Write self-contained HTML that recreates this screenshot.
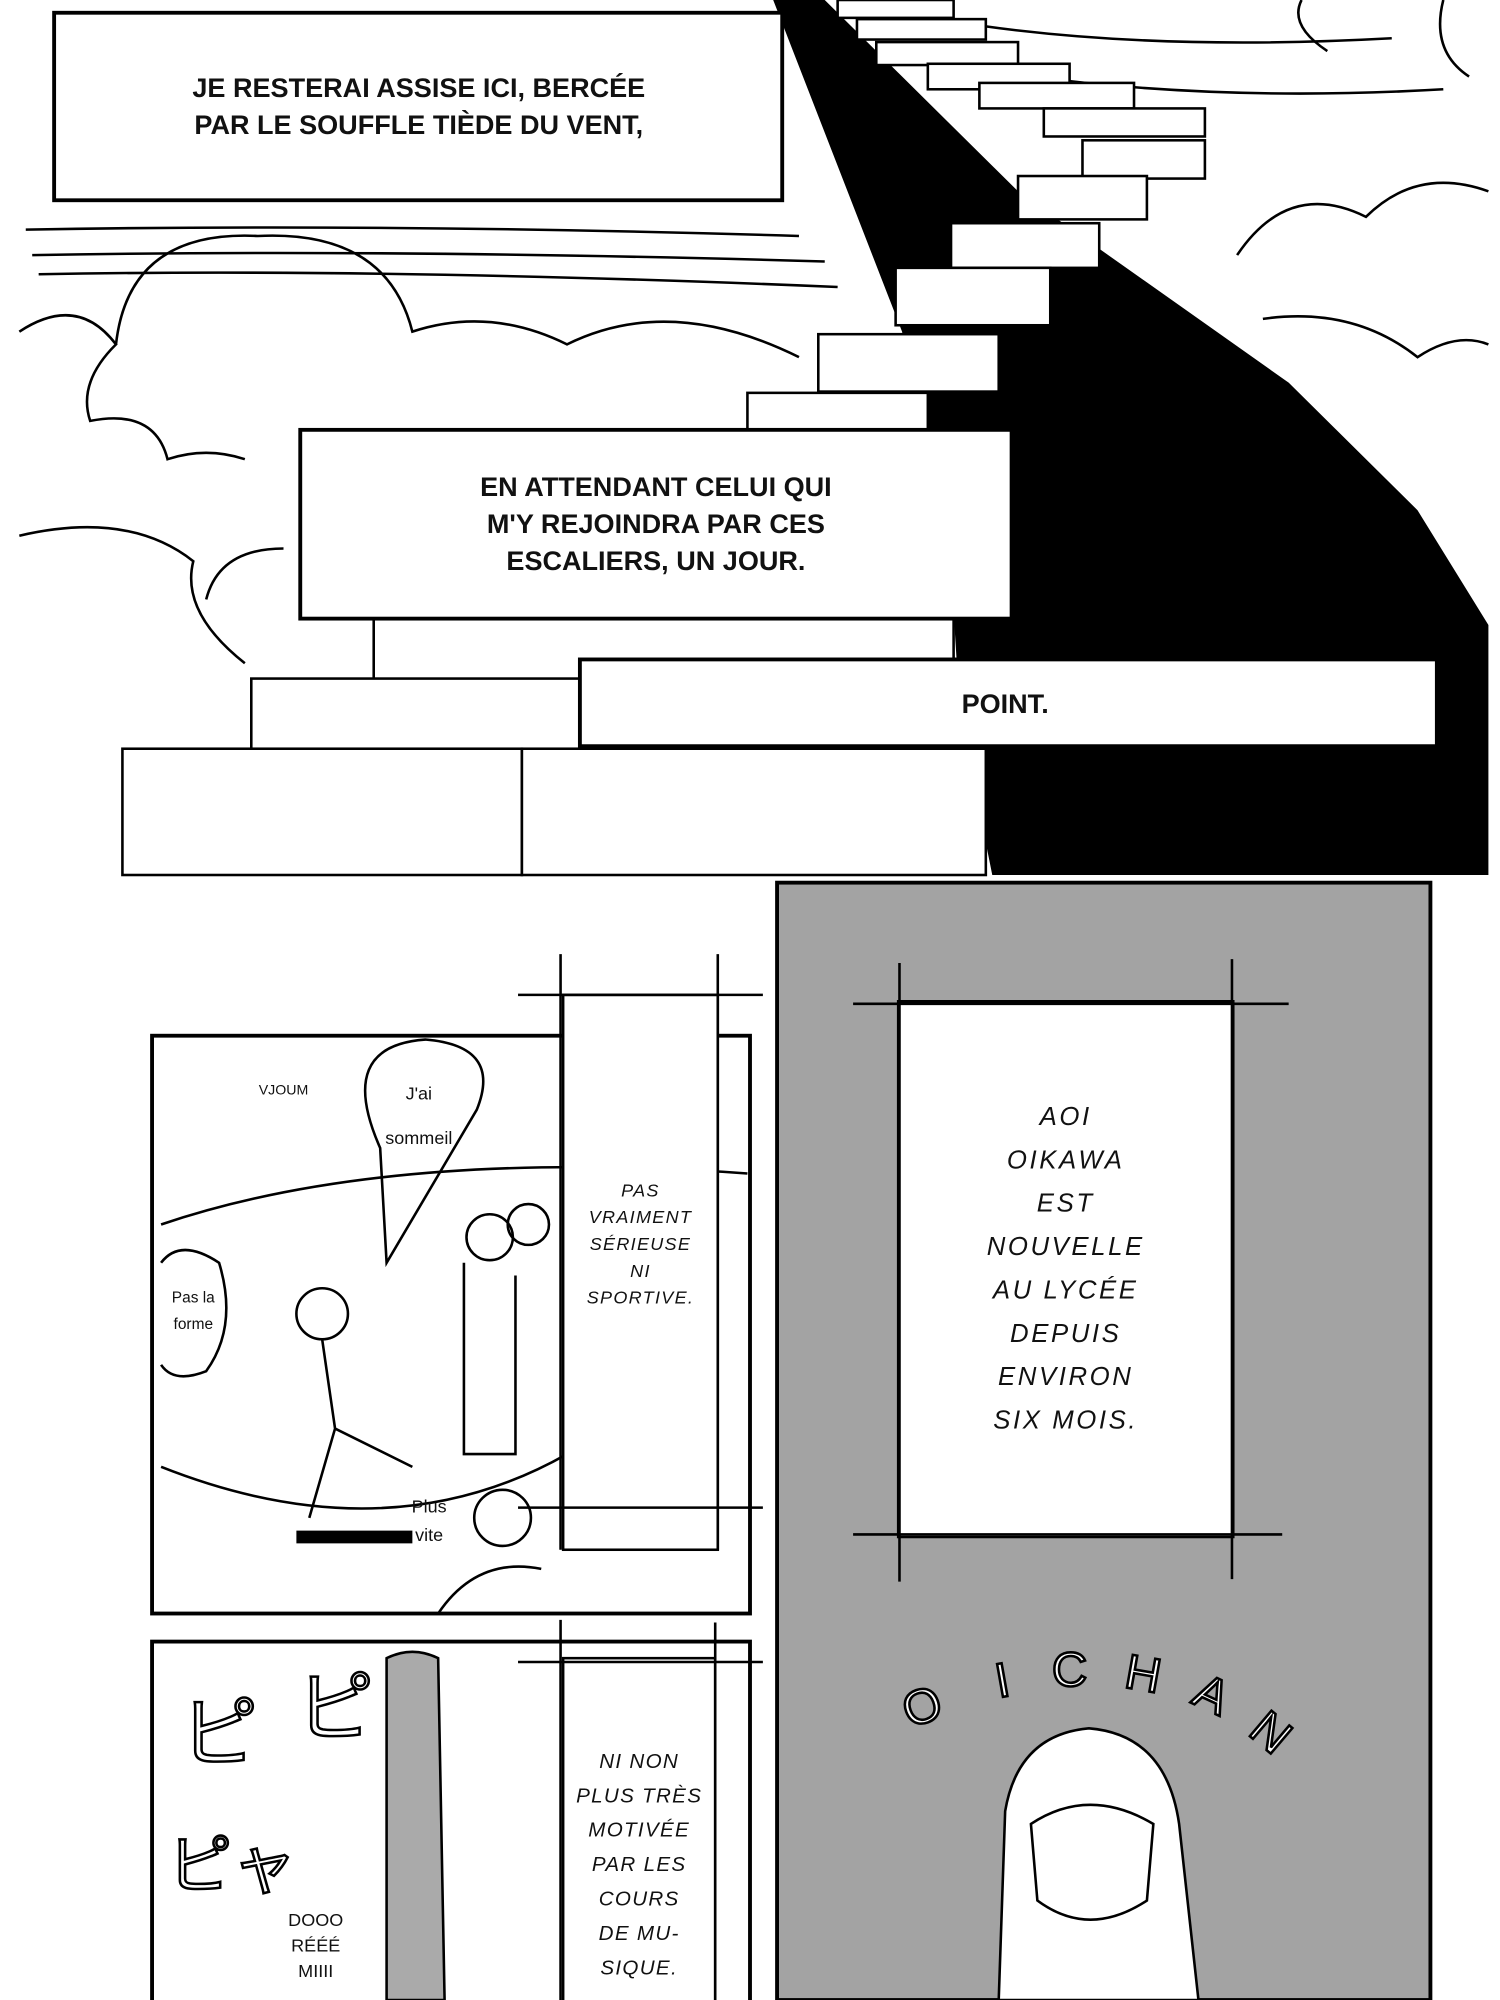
<!DOCTYPE html>
<html><head><meta charset="utf-8"><style>
html,body{margin:0;padding:0;background:#fff;}
svg{display:block;}
text{font-family:"Liberation Sans","Noto Sans CJK JP",sans-serif;}
</style></head><body>
<svg width="1500" height="2000" viewBox="0 0 1164 1568" preserveAspectRatio="none" xmlns="http://www.w3.org/2000/svg">
<rect width="1164" height="1568" fill="#fff"/>
<!-- top panel -->
<rect x="10" y="0" width="1145" height="686" fill="#fff"/>
<g fill="none" stroke="#000" stroke-width="2">
<path d="M20 180 Q300 175 620 185 M25 200 Q300 195 640 205 M30 215 Q300 210 650 225"/>
<path d="M90 270 Q100 180 200 185 Q300 180 320 260 Q380 240 440 270 Q520 230 620 280"/>
<path d="M15 260 Q60 230 90 270 Q60 300 70 330 Q120 320 130 360 Q160 350 190 360"/>
<path d="M160 470 Q170 430 220 430 M15 420 Q100 400 150 440 Q140 480 190 520"/>
<path d="M960 200 Q1000 140 1060 170 Q1100 130 1155 150 M980 250 Q1050 240 1100 280 Q1130 260 1155 270"/>
<path d="M1120 0 Q1110 40 1140 60 M1010 0 Q1000 20 1030 40"/>
<path d="M760 20 Q900 40 1080 30 M800 60 Q950 80 1120 70"/>
</g>
<polygon points="600,0 640,0 700,60 790,150 860,200 1000,300 1100,400 1155,490 1155,686 770,686 745,560 740,480 700,260" fill="#000"/>
<g fill="#fff" stroke="#000" stroke-width="2">
<rect x="650" y="0" width="90" height="14"/><rect x="665" y="15" width="100" height="16"/>
<rect x="680" y="33" width="110" height="18"/><rect x="720" y="50" width="110" height="20"/>
<rect x="760" y="65" width="120" height="20"/><rect x="810" y="85" width="125" height="22"/>
<rect x="840" y="110" width="95" height="30"/><rect x="790" y="138" width="100" height="34"/>
<rect x="738" y="175" width="115" height="35"/><rect x="695" y="210" width="120" height="45"/>
<rect x="635" y="262" width="140" height="45"/><rect x="580" y="308" width="140" height="40"/>
<rect x="290" y="485" width="450" height="50"/><rect x="195" y="532" width="300" height="75"/>
<rect x="95" y="587" width="310" height="99"/><rect x="405" y="587" width="360" height="99"/>
</g>
<rect x="42" y="10" width="565" height="147" fill="#fff" stroke="#000" stroke-width="3"/>
<rect x="233" y="337" width="552" height="148" fill="#fff" stroke="#000" stroke-width="3"/>
<rect x="450" y="517" width="665" height="68" fill="#fff" stroke="#000" stroke-width="3"/>
<g font-size="21" font-weight="bold" text-anchor="middle" fill="#111">
<text x="325" y="76">JE RESTERAI ASSISE ICI, BERCÉE</text>
<text x="325" y="105">PAR LE SOUFFLE TIÈDE DU VENT,</text>
<text x="509" y="389">EN ATTENDANT CELUI QUI</text>
<text x="509" y="418">M'Y REJOINDRA PAR CES</text>
<text x="509" y="447">ESCALIERS, UN JOUR.</text>
<text x="780" y="559">POINT.</text>
</g>
<!-- bottom right gray -->
<rect x="603" y="692" width="507" height="876" fill="#a3a3a3" stroke="#000" stroke-width="3"/>
<rect x="697" y="785" width="260" height="420" fill="#fff" stroke="#000" stroke-width="2"/>
<g stroke="#000" stroke-width="2"><line x1="662" y1="787" x2="1000" y2="787"/><line x1="662" y1="1203" x2="995" y2="1203"/>
<line x1="698" y1="755" x2="698" y2="1240"/><line x1="956" y1="752" x2="956" y2="1238"/></g>
<g font-size="20" font-style="italic" text-anchor="middle" fill="#111" letter-spacing="2">
<text x="827" y="882">AOI</text><text x="827" y="916">OIKAWA</text><text x="827" y="950">EST</text>
<text x="827" y="984">NOUVELLE</text><text x="827" y="1018">AU LYCÉE</text><text x="827" y="1052">DEPUIS</text>
<text x="827" y="1086">ENVIRON</text><text x="827" y="1120">SIX MOIS.</text>
</g>
<g font-size="38" fill="#fff" stroke="#000" stroke-width="2" text-anchor="middle">
<text x="720" y="1350" transform="rotate(-20 720 1350)">O</text>
<text x="780" y="1330" transform="rotate(-10 780 1330)">I</text>
<text x="830" y="1322">C</text>
<text x="885" y="1325" transform="rotate(10 885 1325)">H</text>
<text x="935" y="1340" transform="rotate(25 935 1340)">A</text>
<text x="978" y="1368" transform="rotate(40 978 1368)">N</text>
</g>
<path d="M775 1568 L780 1420 Q790 1360 845 1355 Q905 1360 915 1430 L930 1568 Z" fill="#fff" stroke="#000" stroke-width="2"/>
<path d="M800 1430 Q845 1400 895 1430 L890 1490 Q845 1520 805 1490 Z" fill="#fff" stroke="#000" stroke-width="2"/>
<!-- left panel 1 -->
<rect x="118" y="812" width="464" height="453" fill="#fff" stroke="#000" stroke-width="3"/>
<g fill="none" stroke="#000" stroke-width="2">
<path d="M125 960 Q300 900 580 920 M125 1150 Q300 1220 440 1140"/>
<path d="M295 900 Q260 820 330 815 Q390 820 370 870 L300 990 Z"/>
<path d="M125 990 Q140 970 170 990 Q185 1040 160 1075 Q135 1085 125 1070"/>
<circle cx="250" cy="1030" r="20"/><circle cx="380" cy="970" r="18"/><circle cx="410" cy="960" r="16"/>
<path d="M250 1050 L260 1120 L240 1190 M260 1120 L320 1150"/>
<circle cx="390" cy="1190" r="22"/><path d="M340 1265 Q370 1220 420 1230"/>
<path d="M360 990 L360 1140 L400 1140 L400 1000"/>
</g>
<rect x="230" y="1200" width="90" height="10" fill="#000"/>
<g font-size="14" fill="#111" text-anchor="middle"><text x="325" y="862">J'ai</text><text x="325" y="897">sommeil</text>
<text x="150" y="1021" font-size="12">Pas la</text><text x="150" y="1042" font-size="12">forme</text>
<text x="333" y="1186">Plus</text><text x="333" y="1208">vite</text><text x="220" y="858" font-size="11">VJOUM</text></g>
<rect x="437" y="780" width="120" height="435" fill="#fff" stroke="#000" stroke-width="2"/>
<g stroke="#000" stroke-width="2"><line x1="402" y1="780" x2="592" y2="780"/><line x1="402" y1="1182" x2="592" y2="1182"/>
<line x1="435" y1="748" x2="435" y2="1215"/><line x1="557" y1="748" x2="557" y2="1215"/></g>
<g font-size="14" font-style="italic" text-anchor="middle" fill="#111" letter-spacing="1">
<text x="497" y="938">PAS</text><text x="497" y="959">VRAIMENT</text><text x="497" y="980">SÉRIEUSE</text>
<text x="497" y="1001">NI</text><text x="497" y="1022">SPORTIVE.</text></g>
<!-- left panel 2 -->
<rect x="118" y="1287" width="464" height="290" fill="#fff" stroke="#000" stroke-width="3"/>
<path d="M300 1568 L300 1300 Q320 1290 340 1300 L345 1568 Z" fill="#aaa" stroke="#000" stroke-width="2"/>
<g font-size="60" fill="#fff" stroke="#000" stroke-width="2"><text x="140" y="1380">ピ</text><text x="230" y="1360">ピ</text>
<text x="130" y="1480" font-size="50">ピャ</text></g>
<g font-size="14" fill="#111" text-anchor="middle"><text x="245" y="1510">DOOO</text><text x="245" y="1530">RÉÉÉ</text><text x="245" y="1550">MIIII</text></g>
<rect x="437" y="1300" width="118" height="278" fill="#fff" stroke="#000" stroke-width="2"/>
<g stroke="#000" stroke-width="2"><line x1="402" y1="1303" x2="592" y2="1303"/>
<line x1="435" y1="1270" x2="435" y2="1568"/><line x1="555" y1="1272" x2="555" y2="1568"/></g>
<g font-size="16" font-style="italic" text-anchor="middle" fill="#111" letter-spacing="1">
<text x="496" y="1386">NI NON</text><text x="496" y="1413">PLUS TRÈS</text><text x="496" y="1440">MOTIVÉE</text>
<text x="496" y="1467">PAR LES</text><text x="496" y="1494">COURS</text><text x="496" y="1521">DE MU-</text><text x="496" y="1548">SIQUE.</text></g>
</svg>
</body></html>
